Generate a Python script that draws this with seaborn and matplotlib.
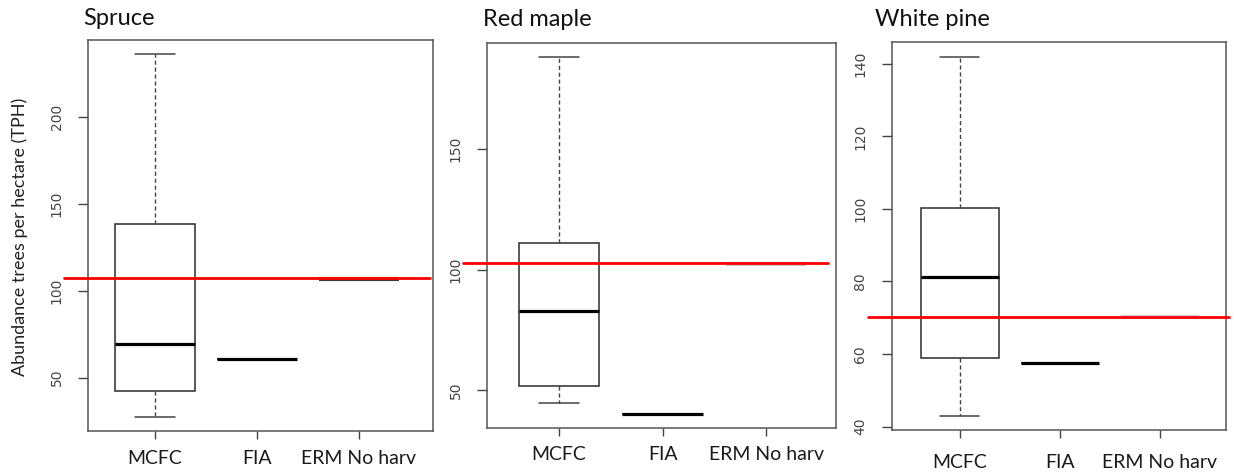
import pandas as pd
import matplotlib.pyplot as plt
import seaborn as sns

# =========================
# Data
# =========================

groups = ["MCFC", "FIA", "ERM No harv"]

spruce_mcfc = [27.6, 42.5, 69.5, 138.3, 236.0]
spruce_fia = [60.9]
spruce_erm = [106.5]
spruce_ref = 107.6
spruce_ticks = [50, 100, 150, 200]

maple_mcfc = [44.7, 51.5, 82.7, 110.8, 188.0]
maple_fia = [40.2]
maple_erm = [102.2]
maple_ref = 102.6
maple_ticks = [50, 100, 150]

pine_mcfc = [43.0, 58.8, 81.3, 100.3, 142.0]
pine_fia = [57.5]
pine_erm = [70.3]
pine_ref = 70.3
pine_ticks = [40, 60, 80, 100, 120, 140]

titles = ["Spruce", "Red maple", "White pine"]


# =========================
# Style
# =========================

sns.set_style("ticks")
plt.rcParams["font.family"] = ["Lato", "DejaVu Sans"]

fig = plt.figure(figsize=(12.34, 4.72), dpi=100)

# axes boxes in figure fractions, title offset, xlim, red line end, ERM colour
layout = [
    dict(rect=[0.0713, 0.0869, 0.2796, 0.8284], tx=-0.015, ty=0.038,
         xlim=(-0.657, 2.725), xmax=0.99, erm="#3a3a3a", pad=8),
    dict(rect=[0.3947, 0.0932, 0.2828, 0.8157], tx=-0.011, ty=0.044,
         xlim=(-0.696, 2.676), xmax=0.977, erm="#c8c8c8", pad=7),
    dict(rect=[0.7226, 0.0890, 0.2707, 0.8214], tx=-0.05, ty=0.041,
         xlim=(-0.683, 2.657), xmax=1.01, erm="#d0d0d0", pad=11),
]

panels = [
    (spruce_mcfc, spruce_fia, spruce_erm, spruce_ref, spruce_ticks),
    (maple_mcfc, maple_fia, maple_erm, maple_ref, maple_ticks),
    (pine_mcfc, pine_fia, pine_erm, pine_ref, pine_ticks),
]

for title, (mcfc, fia, erm, ref, ticks), lay in zip(titles, panels, layout):
    ax = fig.add_axes(lay["rect"])

    df = pd.DataFrame({
        "group": [groups[0]] * len(mcfc) + [groups[1]] * len(fia) + [groups[2]] * len(erm),
        "tph": mcfc + fia + erm,
    })

    sns.boxplot(
        data=df, x="group", y="tph", order=groups, ax=ax,
        width=0.78, color="white", linecolor="#2b2b2b", linewidth=1.1,
        showfliers=False,
        medianprops=dict(color="black", linewidth=2.3),
        whiskerprops=dict(color="#444444", linewidth=1.0, linestyle=(0, (3, 2))),
        capprops=dict(color="#444444", linewidth=1.1),
    )

    # ERM median line colour differs between panels
    bp = ax.containers[0]
    bp.medians[2].set_color(lay["erm"])
    bp.medians[2].set_linewidth(3)

    # reference line
    ax.axhline(ref, xmin=-0.07, xmax=lay["xmax"], color="red", lw=2,
               clip_on=False, zorder=5)

    # R-like y range (4% padding)
    vals = mcfc + fia + erm
    lo, hi = min(vals), max(vals)
    d = 0.04 * (hi - lo)
    ax.set_ylim(lo - d, hi + d)
    ax.set_xlim(*lay["xlim"])
    ax.set_yticks(ticks)
    ax.set_yticklabels([str(t) for t in ticks], rotation=90, va="center",
                       family=["Liberation Sans Narrow", "DejaVu Sans"],
                       fontsize=10, color="#444444")
    ax.set_xticks(range(len(groups)))
    ax.set_xticklabels(groups, fontsize=14, color="#1a1a1a")
    ax.tick_params(axis="y", length=7.5, width=1, color="#444444", pad=10)
    ax.tick_params(axis="x", length=6, width=1, color="#444444", pad=lay["pad"])
    ax.set_xlabel("")
    ax.set_ylabel("")

    for s in ax.spines.values():
        s.set_color("#555555")
        s.set_linewidth(1.1)

    ax.text(lay["tx"], 1 + lay["ty"], title, transform=ax.transAxes,
            ha="left", va="baseline", fontsize=17, color="#111111")

fig.text(20 / 1234, 1 - 237 / 472, "Abundance trees per hectare (TPH)",
         rotation=90, ha="center", va="center", fontsize=13, color="#222222")

plt.savefig("out.png", dpi=100)
